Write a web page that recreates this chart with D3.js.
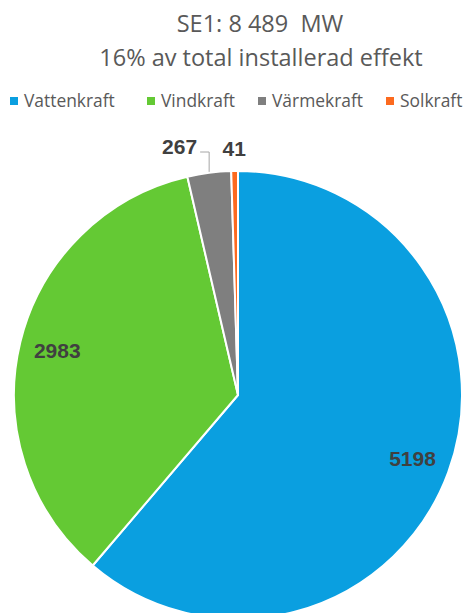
<!DOCTYPE html>
<html>
<head>
<meta charset="utf-8">
<script src="https://cdn.jsdelivr.net/npm/d3@7"></script>
<style>
  html, body { margin: 0; padding: 0; background: #fff; }
  body { width: 472px; height: 613px; overflow: hidden; font-family: "Open Sans", "Noto Sans", sans-serif; }
  .title { fill: #595959; font-size: 23.5px; white-space: pre; }
  .legend-label { fill: #595959; font-size: 17.4px; }
  .slice-label { fill: #404040; font-size: 21px; font-weight: bold; font-family: "Liberation Sans", Arial, sans-serif; }
</style>
</head>
<body>
<div id="chart"></div>
<script>
(function () {

    var TITLE = "SE1: 8 489  MW";
    var SUBTITLE = "16% av total installerad effekt";

    var categories = ["Vattenkraft", "Vindkraft", "Värmekraft", "Solkraft"];
    var values     = [5198, 2983, 267, 41];
    var colors     = ["#0A9FE0", "#64C934", "#7F7F7F", "#FC6A1F"];
    var outside    = [false, false, true, true];

    var W = 472, H = 613;
    var R = 224;
    var CX = 238, CY = 395;

    var svg = d3.select("#chart").append("svg")
        .attr("width", W).attr("height", H);

    /* titles */
    svg.append("text").attr("class", "title")
        .attr("x", 260).attr("y", 32)
        .attr("text-anchor", "middle")
        .text(TITLE);
    svg.append("text").attr("class", "title")
        .attr("x", 261).attr("y", 66)
        .attr("text-anchor", "middle")
        .text(SUBTITLE);

    /* legend */
    var legendX = [10, 147, 258, 386];
    categories.forEach(function (c, i) {
        var g = svg.append("g")
            .attr("transform", "translate(" + legendX[i] + ",95)");
        g.append("rect")
            .attr("width", 8).attr("height", 8)
            .attr("y", 2)
            .attr("fill", colors[i]);
        g.append("text").attr("class", "legend-label")
            .attr("x", 14).attr("y", 12)
            .text(c);
    });

    /* pie */
    var pie = d3.pie().sort(null).value(function (d) { return d; });
    var arcs = pie(values);
    var arc = d3.arc().innerRadius(0).outerRadius(R);
    var labelArc = d3.arc().innerRadius(186).outerRadius(186);

    var g = svg.append("g")
        .attr("transform", "translate(" + CX + "," + CY + ")");

    g.selectAll("path")
        .data(arcs)
        .enter().append("path")
        .attr("d", arc)
        .attr("fill", function (d, i) { return colors[i]; })
        .attr("stroke", "#fff")
        .attr("stroke-width", 2)
        .attr("stroke-linejoin", "round");

    /* inside labels */
    arcs.forEach(function (d, i) {
        if (!outside[i]) {
            var c = labelArc.centroid(d);
            g.append("text").attr("class", "slice-label")
                .attr("x", c[0]).attr("y", c[1] + 7)
                .attr("text-anchor", "middle")
                .text(values[i]);
        }
    });

    /* Värmekraft label with leader line */
    var dV = arcs[2];
    var midV = (dV.startAngle + dV.endAngle) / 2;
    var px = R * Math.sin(midV), py = -R * Math.cos(midV);
    var lineTop = -R - 19;
    g.append("polyline")
        .attr("points", [[px, py - 1], [px, lineTop], [px - 9, lineTop]].map(function (p) { return p.join(","); }).join(" "))
        .attr("fill", "none")
        .attr("stroke", "#A6A6A6")
        .attr("stroke-width", 1);
    g.append("text").attr("class", "slice-label")
        .attr("x", px - 12).attr("y", lineTop + 2)
        .attr("text-anchor", "end")
        .text(values[2]);

    /* Solkraft label */
    var dS = arcs[3];
    var midS = (dS.startAngle + dS.endAngle) / 2;
    var rS = R + 22;
    g.append("text").attr("class", "slice-label")
        .attr("x", rS * Math.sin(midS)).attr("y", -rS * Math.cos(midS) + 7)
        .attr("text-anchor", "middle")
        .text(values[3]);

}());
</script>
</body>
</html>
